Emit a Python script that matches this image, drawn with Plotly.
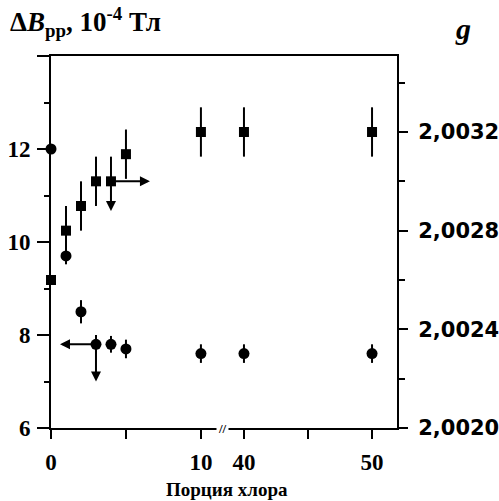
import plotly.graph_objects as go

# ---- data ----
portion = [0, 1, 2, 3, 4, 5, 10, 40, 50]
dBpp = [12.0, 9.7, 8.5, 7.8, 7.8, 7.7, 7.6, 7.6, 7.6]
dBpp_err = [0, 0.18, 0.25, 0.2, 0.18, 0.2, 0.2, 0.2, 0.2]
g_values = [2.0026, 2.0028, 2.0029, 2.0030, 2.0030, 2.00311, 2.0032, 2.0032, 2.0032]
g_err_plus = [0, 0.0001, 0.0001, 0.0001, 0.0001, 0.0001, 0.0001, 0.0001, 0.0001]
g_err_minus = [0, 0.0001, 0.0001, 0.0001, 0, 0.0001, 0.0001, 0.0001, 0.0001]

left_ticks = [6, 8, 10, 12, 14]
left_ticktext = ["6", "8", "10", "12", ""]
right_ticks = [2.0020, 2.0024, 2.0028, 2.0032]
right_ticktext = ["2,0020", "2,0024", "2,0028", "2,0032"]
x1_ticks = [0, 5, 10]
x1_ticktext = ["0", "", "10"]
x2_ticks = [40, 45, 50]
x2_ticktext = ["40", "", "50"]

BREAK = 20  # values below go on the first x segment

SERIF = "Liberation Serif"
SANS = "DejaVu Sans"
BLACK = "black"

fig = go.Figure()

def split(vals):
    a = [v for p, v in zip(portion, vals) if p < BREAK]
    b = [v for p, v in zip(portion, vals) if p >= BREAK]
    return a, b

px1, px2 = split(portion)
d1, d2 = split(dBpp)
de1, de2 = split(dBpp_err)
g1, g2 = split(g_values)
gp1, gp2 = split(g_err_plus)
gm1, gm2 = split(g_err_minus)

for xs, ys, es, xa in [(px1, d1, de1, "x"), (px2, d2, de2, "x2")]:
    fig.add_trace(go.Scatter(
        x=xs, y=ys, xaxis=xa, yaxis="y", mode="markers",
        marker=dict(symbol="circle", size=11, color=BLACK),
        error_y=dict(type="data", array=es, color=BLACK, thickness=2, width=0),
        cliponaxis=False, showlegend=False))

for xs, ys, ep, em, xa in [(px1, g1, gp1, gm1, "x"), (px2, g2, gp2, gm2, "x2")]:
    fig.add_trace(go.Scatter(
        x=xs, y=ys, xaxis=xa, yaxis="y2", mode="markers",
        marker=dict(symbol="square", size=10, color=BLACK),
        error_y=dict(type="data", array=ep, arrayminus=em, color=BLACK, thickness=2, width=0),
        cliponaxis=False, showlegend=False))

arrow = dict(showarrow=True, arrowhead=2, arrowsize=1, arrowwidth=2, arrowcolor=BLACK, text="")
# circle at portion 3: arrow to left axis and down arrow
fig.add_annotation(x=0.6, y=dBpp[3], ax=portion[3], ay=dBpp[3], xref="x", yref="y", axref="x", ayref="y", **arrow)
fig.add_annotation(x=portion[3], y=7.0, ax=portion[3], ay=dBpp[3], xref="x", yref="y", axref="x", ayref="y", **arrow)
# square at portion 4: arrow to right axis and down arrow
fig.add_annotation(x=6.6, y=g_values[4], ax=portion[4], ay=g_values[4], xref="x", yref="y2", axref="x", ayref="y2", **arrow)
fig.add_annotation(x=portion[4], y=2.00288, ax=portion[4], ay=g_values[4], xref="x", yref="y2", axref="x", ayref="y2", **arrow)

serif_tick = dict(family=SERIF, size=23, color=BLACK, weight="bold")
sans_tick = dict(family=SANS, size=21, color=BLACK, weight="bold")
split_frac = 0.497

xcommon = dict(showgrid=False, zeroline=False, showline=True, linecolor=BLACK, linewidth=2,
               mirror=True, ticks="outside", ticklen=9, tickwidth=2, tickcolor=BLACK,
               tickfont=serif_tick, anchor="y", ticklabelstandoff=3, automargin=False)

fig.update_layout(
    width=499, height=501,
    margin=dict(l=51, r=102, t=56, b=73, autoexpand=False),
    paper_bgcolor="white", plot_bgcolor="white",
    xaxis=dict(domain=[0, split_frac], range=[0, 11.47],
               tickvals=x1_ticks, ticktext=x1_ticktext, **xcommon),
    xaxis2=dict(domain=[split_frac, 1], range=[38.36, 51.95],
                tickvals=x2_ticks, ticktext=x2_ticktext, **xcommon),
    yaxis=dict(range=[6, 14], showgrid=False, zeroline=False, showline=True,
               linecolor=BLACK, linewidth=2, tickvals=left_ticks, ticktext=left_ticktext,
               ticks="outside", ticklen=12, tickwidth=2, tickcolor=BLACK, tickfont=serif_tick,
               ticklabelstandoff=2, automargin=False,
               minor=dict(tickvals=[7, 9, 11, 13], ticks="outside", ticklen=5, tickwidth=1.5,
                          tickcolor=BLACK),
               anchor="x"),
    yaxis2=dict(range=[2.0020, 2.003508], overlaying="y", side="right", anchor="x2",
                showgrid=False, zeroline=False, showline=True, linecolor=BLACK, linewidth=2,
                tickvals=right_ticks, ticktext=right_ticktext, ticks="outside", ticklen=9,
                tickwidth=2, tickcolor=BLACK, tickfont=sans_tick, ticklabelstandoff=6,
                automargin=False,
                minor=dict(tickvals=[2.0022, 2.0026, 2.0030, 2.0034], ticks="outside",
                           ticklen=6, tickwidth=1.5, tickcolor=BLACK)),
)

# axis titles
fig.add_annotation(text="<b>Δ<i>B</i><sub>pp</sub>, 10<sup>-4</sup> Тл</b>", xref="paper", yref="paper",
                   x=0, y=1.0, xanchor="left", yanchor="bottom", xshift=-43, yshift=13, showarrow=False,
                   font=dict(family=SERIF, size=27, color=BLACK))
fig.add_annotation(text="<b><i>g</i></b>", xref="paper", yref="paper",
                   x=1.0, y=1.0, xanchor="center", yanchor="middle", xshift=66, yshift=28, showarrow=False,
                   font=dict(family=SERIF, size=30, color=BLACK))
fig.add_annotation(text="<b>Порция хлора</b>", xref="paper", yref="paper",
                   x=0.51, y=0, xanchor="center", yanchor="top", yshift=-49, showarrow=False,
                   font=dict(family=SERIF, size=19, color=BLACK))
# axis break mark
fig.add_annotation(text="<b>//</b>", xref="paper", yref="paper", x=split_frac, y=0,
                   xanchor="center", yanchor="middle", showarrow=False,
                   font=dict(family=SERIF, size=13, color=BLACK), bgcolor="white")

fig.write_html("out.html", config={"displayModeBar": False},
               post_script="document.body.style.margin='0';")
